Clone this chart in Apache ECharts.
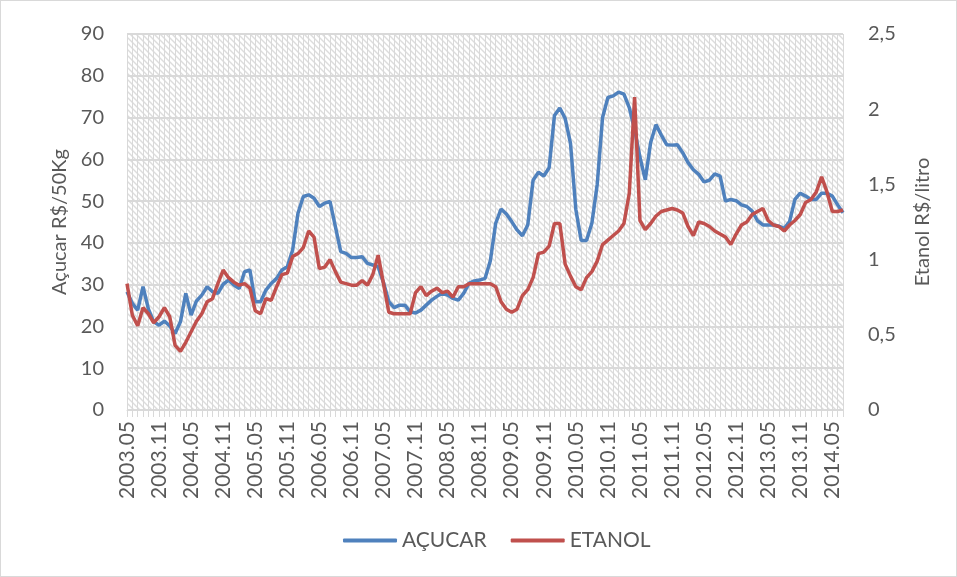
<!DOCTYPE html>
<html>
<head>
<meta charset="utf-8">
<script src="https://cdn.jsdelivr.net/npm/echarts@6/dist/echarts.min.js"></script>
<style>
  html, body { margin: 0; padding: 0; background: #fff; }
  #chart { width: 957px; height: 577px; box-sizing: border-box; border: 1px solid #d9d9d9; }
</style>
</head>
<body>
<div id="chart"></div>
<script>
// mensal, 2003.05 a 2014.07
var firstYear = 2003, firstMonth = 5, nMonths = 135;

// Açucar R$/50Kg
var acucar = [
  28.3, 25.5, 23.9, 29.5, 24.2, 21.1, 20.3, 21.3, 20.1, 18.3,
  21.1, 27.9, 22.7, 26.1, 27.5, 29.5, 28.3, 27.9, 30.1, 31.1,
  29.9, 29.1, 33.1, 33.5, 25.9, 25.9, 28.7, 30.3, 31.5, 33.5,
  34.3, 38.3, 47.1, 51.1, 51.5, 50.7, 48.7, 49.5, 49.9, 43.9,
  37.9, 37.5, 36.5, 36.5, 36.7, 35.1, 34.7, 34.3, 30.5, 25.9,
  24.5, 25.1, 25.1, 23.5, 23.2, 23.9, 25.1, 26.3, 27.2, 28.0,
  27.5, 26.7, 26.3, 27.9, 30.3, 30.9, 31.1, 31.5, 35.7, 44.7,
  48.1, 46.9, 45.1, 43.1, 41.7, 44.3, 55.0, 56.9, 56.0, 58.0,
  70.5, 72.3, 69.8, 63.8, 48.0, 40.6, 40.6, 44.7, 54.0, 70.0,
  74.8, 75.2, 76.1, 75.6, 72.4, 67.1, 60.5, 55.1, 64.0, 68.3,
  65.8, 63.5, 63.4, 63.5, 61.6, 59.2, 57.5, 56.4, 54.6, 55.0,
  56.5, 56.0, 50.0, 50.4, 50.1, 49.1, 48.7, 47.6, 45.3, 44.3,
  44.3, 44.3, 44.0, 43.5, 45.1, 50.4, 51.9, 51.2, 50.4, 50.4,
  51.9, 51.9, 51.2, 49.1, 47.2
];

// Etanol R$/litro
var etanol = [
  0.84, 0.63, 0.56, 0.68, 0.64, 0.58, 0.62, 0.68, 0.62, 0.43,
  0.39, 0.45, 0.52, 0.59, 0.64, 0.72, 0.74, 0.84, 0.93, 0.88,
  0.85, 0.83, 0.84, 0.81, 0.66, 0.64, 0.74, 0.73, 0.82, 0.90,
  0.91, 1.02, 1.04, 1.08, 1.19, 1.15, 0.94, 0.95, 1.00, 0.92,
  0.85, 0.84, 0.83, 0.83, 0.86, 0.83, 0.90, 1.03, 0.84, 0.65,
  0.64, 0.64, 0.64, 0.64, 0.78, 0.82, 0.76, 0.79, 0.81, 0.78,
  0.79, 0.75, 0.82, 0.82, 0.84, 0.84, 0.84, 0.84, 0.84, 0.82,
  0.72, 0.67, 0.65, 0.67, 0.76, 0.80, 0.88, 1.04, 1.05, 1.09,
  1.24, 1.24, 0.97, 0.89, 0.82, 0.80, 0.88, 0.92, 0.99, 1.10,
  1.13, 1.16, 1.19, 1.24, 1.44, 2.08, 1.26, 1.20, 1.24, 1.29,
  1.32, 1.33, 1.34, 1.33, 1.31, 1.22, 1.16, 1.25, 1.24, 1.22,
  1.19, 1.17, 1.15, 1.10, 1.17, 1.23, 1.25, 1.30, 1.32, 1.34,
  1.26, 1.23, 1.22, 1.19, 1.23, 1.26, 1.30, 1.38, 1.40, 1.45,
  1.55, 1.45, 1.32, 1.32, 1.33
];

var meses = [];
for (var i = 0; i < nMonths; i++) {
  var m = firstMonth - 1 + i;
  var y = firstYear + Math.floor(m / 12);
  var mm = (m % 12) + 1;
  meses.push(y + '.' + (mm < 10 ? '0' + mm : mm));
}

// textura hachurada do fundo (como no Excel)
var hatch = document.createElement('canvas');
hatch.width = 6; hatch.height = 6;
var ctx = hatch.getContext('2d');
ctx.fillStyle = '#ffffff';
ctx.fillRect(0, 0, 6, 6);
ctx.strokeStyle = '#dcdcdc';
ctx.lineWidth = 1.4;
ctx.beginPath();
ctx.moveTo(-1, -1); ctx.lineTo(7, 7);
ctx.moveTo(-1, 5); ctx.lineTo(1, 7);
ctx.moveTo(5, -1); ctx.lineTo(7, 1);
ctx.stroke();

var fonte = 'Lato';
var cinza = '#595959';
var linhaGrade = '#d9d9d9';

var myChart = echarts.init(document.getElementById('chart'));
myChart.setOption({
  animation: false,
  textStyle: { fontFamily: fonte },
  grid: {
    left: 126, right: 113, top: 33, bottom: 166,
    show: true,
    borderWidth: 0,
    backgroundColor: { image: hatch, repeat: 'repeat' }
  },
  legend: {
    bottom: 20,
    left: 337,
    icon: 'roundRect',
    itemWidth: 54,
    itemHeight: 4,
    itemGap: 24,
    textStyle: { color: cinza, fontSize: 21, fontFamily: fonte },
    data: ['AÇUCAR', 'ETANOL']
  },
  xAxis: {
    type: 'category',
    data: meses,
    boundaryGap: false,
    axisLine: { lineStyle: { color: linhaGrade, width: 1 } },
    axisTick: { show: true, interval: 0, length: 7, lineStyle: { color: linhaGrade } },
    splitLine: { show: true, interval: 0, lineStyle: { color: linhaGrade, width: 1 } },
    axisLabel: {
      interval: 5,
      rotate: 90,
      color: cinza,
      fontSize: 21,
      margin: 11,
      fontFamily: fonte
    }
  },
  yAxis: [{
    type: 'value',
    min: 0, max: 90, interval: 10,
    name: 'Açucar R$/50Kg',
    nameLocation: 'middle',
    nameRotate: 90,
    nameGap: 54,
    nameTextStyle: { color: cinza, fontSize: 20, fontFamily: fonte },
    axisLine: { show: false },
    axisTick: { show: false },
    splitLine: { lineStyle: { color: linhaGrade, width: 2 } },
    axisLabel: { color: cinza, fontSize: 20, margin: 23, fontFamily: fonte }
  }, {
    type: 'value',
    min: 0, max: 2.5, interval: 0.5,
    name: 'Etanol R$/litro',
    nameLocation: 'middle',
    nameRotate: 90,
    nameGap: 70,
    nameTextStyle: { color: cinza, fontSize: 20, fontFamily: fonte },
    axisLine: { show: false },
    axisTick: { show: false },
    splitLine: { show: false },
    axisLabel: {
      color: cinza, fontSize: 20, margin: 25, fontFamily: fonte,
      formatter: function (v) { return String(v).replace('.', ','); }
    }
  }],
  series: [{
    name: 'AÇUCAR',
    type: 'line',
    yAxisIndex: 0,
    data: acucar,
    symbol: 'none',
    lineStyle: { color: '#4f81bd', width: 3.5 },
    itemStyle: { color: '#4f81bd' }
  }, {
    name: 'ETANOL',
    type: 'line',
    yAxisIndex: 1,
    data: etanol,
    symbol: 'none',
    lineStyle: { color: '#c0504d', width: 3.5 },
    itemStyle: { color: '#c0504d' }
  }]
});
</script>
</body>
</html>
